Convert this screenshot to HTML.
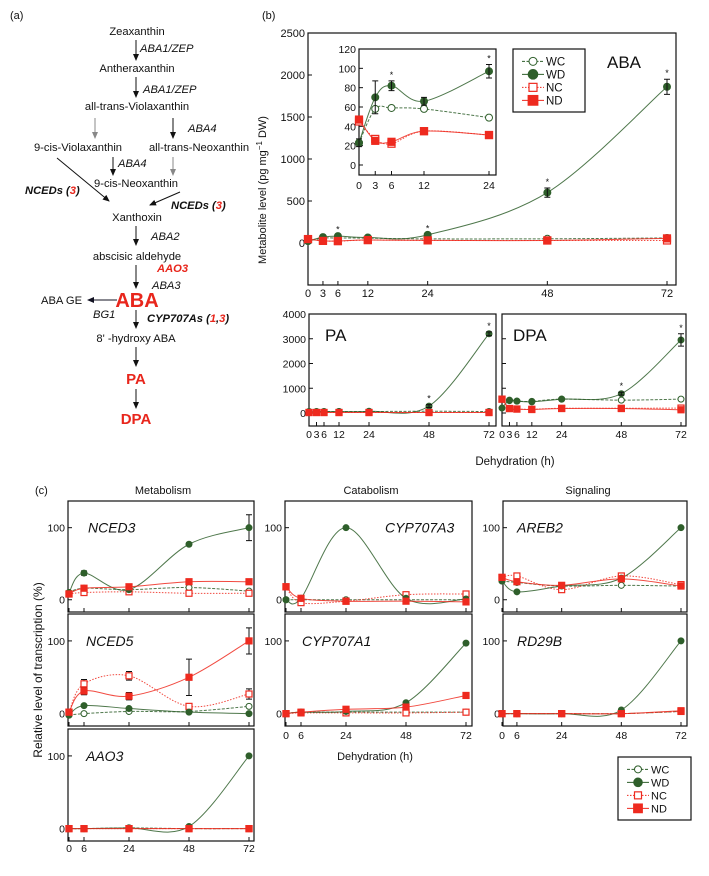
<!DOCTYPE html>
<html><head><meta charset="utf-8"><style>
body{margin:0;background:#fff;}
svg text{font-family:"Liberation Sans",Arial,sans-serif;fill:#111;}
</style></head><body>
<svg id="fig" xmlns="http://www.w3.org/2000/svg" width="709" height="871" viewBox="0 0 709 871">
<defs><marker id="ah" markerWidth="8" markerHeight="8" refX="6" refY="3" orient="auto"><path d="M0,0 L7,3 L0,6 Z" fill="#111"/></marker>
<marker id="ahg" markerWidth="8" markerHeight="8" refX="6" refY="3" orient="auto"><path d="M0,0 L7,3 L0,6 Z" fill="#888"/></marker>
<marker id="ahn" markerWidth="8" markerHeight="8" refX="6" refY="3" orient="auto"><path d="M0,0 L7,3 L0,6 Z" fill="#112"/></marker></defs>
<g id="pathway" font-size="11.2">
<text x="10" y="19" font-size="11">(a)</text>
<text x="137" y="35" text-anchor="middle">Zeaxanthin</text>
<line x1="136" y1="40" x2="136" y2="60" stroke="#111" marker-end="url(#ah)"/>
<text x="140" y="52" font-style="italic">ABA1/ZEP</text>
<text x="137" y="72" text-anchor="middle">Antheraxanthin</text>
<line x1="136" y1="77" x2="136" y2="97" stroke="#111" marker-end="url(#ah)"/>
<text x="143" y="93" font-style="italic">ABA1/ZEP</text>
<text x="137" y="110" text-anchor="middle">all-trans-Violaxanthin</text>
<line x1="95" y1="118" x2="95" y2="138" stroke="#888" marker-end="url(#ahg)"/>
<line x1="173" y1="118" x2="173" y2="138" stroke="#111" marker-end="url(#ah)"/>
<text x="188" y="132" font-style="italic">ABA4</text>
<text x="78" y="151" text-anchor="middle">9-cis-Violaxanthin</text>
<text x="199" y="151" text-anchor="middle">all-trans-Neoxanthin</text>
<line x1="113" y1="157" x2="113" y2="175" stroke="#111" marker-end="url(#ah)"/>
<text x="118" y="167" font-style="italic">ABA4</text>
<line x1="173" y1="157" x2="173" y2="175" stroke="#888" marker-end="url(#ahg)"/>
<text x="136" y="187" text-anchor="middle">9-cis-Neoxanthin</text>
<line x1="57" y1="158" x2="109" y2="201" stroke="#111" marker-end="url(#ah)"/>
<line x1="180" y1="192" x2="150" y2="205" stroke="#111" marker-end="url(#ah)"/>
<text x="25" y="194" font-weight="bold" font-style="italic">NCEDs (<tspan style="fill:#e8261c">3</tspan>)</text>
<text x="171" y="209" font-weight="bold" font-style="italic">NCEDs (<tspan style="fill:#e8261c">3</tspan>)</text>
<text x="137" y="221" text-anchor="middle">Xanthoxin</text>
<line x1="136" y1="226" x2="136" y2="245" stroke="#111" marker-end="url(#ah)"/>
<text x="151" y="240" font-style="italic">ABA2</text>
<text x="137" y="260" text-anchor="middle">abscisic aldehyde</text>
<text x="157" y="272" font-style="italic" font-weight="bold" style="fill:#e8261c">AAO3</text>
<line x1="136" y1="265" x2="136" y2="288" stroke="#111" marker-end="url(#ah)"/>
<text x="152" y="289" font-style="italic">ABA3</text>
<text x="137" y="307" text-anchor="middle" font-size="20" font-weight="bold" style="fill:#e8261c">ABA</text>
<line x1="117" y1="300" x2="88" y2="300" stroke="#112" marker-end="url(#ahn)"/>
<text x="41" y="304">ABA GE</text>
<text x="93" y="318" font-style="italic">BG1</text>
<line x1="136" y1="310" x2="136" y2="328" stroke="#111" marker-end="url(#ah)"/>
<text x="147" y="322" font-weight="bold" font-style="italic">CYP707As (<tspan style="fill:#e8261c">1</tspan>,<tspan style="fill:#e8261c">3</tspan>)</text>
<text x="136" y="342" text-anchor="middle">8'  -hydroxy ABA</text>
<line x1="136" y1="347" x2="136" y2="366" stroke="#111" marker-end="url(#ah)"/>
<text x="136" y="384" text-anchor="middle" font-size="15" font-weight="bold" style="fill:#e8261c">PA</text>
<line x1="136" y1="389" x2="136" y2="408" stroke="#111" marker-end="url(#ah)"/>
<text x="136" y="424" text-anchor="middle" font-size="15" font-weight="bold" style="fill:#e8261c">DPA</text>
</g>
<text x="262" y="19" font-size="11">(b)</text>
<text x="0" y="0" font-size="11" transform="translate(266,190) rotate(-90)" text-anchor="middle">Metabolite level (pg mg<tspan dy="-4" font-size="8">−1</tspan><tspan dy="4"> DW)</tspan></text>
<text x="515" y="465" font-size="11.5" text-anchor="middle">Dehydration (h)</text>
<text x="35" y="494" font-size="11">(c)</text>
<text x="163" y="494" font-size="11" text-anchor="middle">Metabolism</text>
<text x="371" y="494" font-size="11" text-anchor="middle">Catabolism</text>
<text x="588" y="494" font-size="11" text-anchor="middle">Signaling</text>
<text x="0" y="0" font-size="12" transform="translate(42,670) rotate(-90)" text-anchor="middle">Relative level of transcription (%)</text>
<text x="375" y="760" font-size="11" text-anchor="middle">Dehydration (h)</text>
<g id="plots"></g>
</svg>
<script>
// ---- data panel b ----
const bHours = [0,3,6,12,24,48,72];
const abaWC = [23,58,59,58,49,50,60];
const abaWD = [23,70,82,66,97,600,1860];
const abaNC = [45,27,22,35,31,30,30];
const abaND = [47,25,24,35,31,30,55];
const abaWDerr = [4,17,5,4,7,55,90];
const paWC = [60,60,60,60,60,70,60];
const paWD = [50,50,50,60,70,280,3200];
const paNC = [20,20,20,20,20,20,20];
const paND = [20,20,20,20,20,20,20];
const paWDerr = [0,0,0,0,0,60,80];
const dpaWC = [550,500,480,470,560,520,560];
const dpaWD = [200,520,480,450,560,780,2950];
const dpaNC = [560,180,160,150,190,190,200];
const dpaND = [560,180,160,140,180,180,130];
const dpaWDerr = [0,0,0,0,0,60,250];
const bMainTicks = [0,500,1000,1500,2000,2500];
const insetTicks = [0,20,40,60,80,100,120];
const paTicks = [0,1000,2000,3000,4000];
const bStars = [6,24,48,72];
const insetStars = [6,24];
// ---- data panel c ----
const cHours = [0,6,24,48,72];
const nced3WC = [10,16,14,17,12], nced3WD = [10,37,14,77,100], nced3NC = [8,10,11,9,9], nced3ND = [8,16,18,25,25];
const cyp3WC = [0,0,0,0,0], cyp3WD = [0,2,100,2,1], cyp3NC = [18,-4,-2,7,8], cyp3ND = [18,2,-2,-2,-3];
const areb2WC = [26,24,19,20,19], areb2WD = [26,11,19,30,100], areb2NC = [31,33,14,33,21], areb2ND = [31,25,20,29,19];
const nced5WC = [-2,0,3,3,10], nced5WD = [-2,11,7,2,0], nced5NC = [2,41,52,10,27], nced5ND = [2,31,24,50,100];
const cyp1WC = [0,2,2,2,2], cyp1WD = [0,2,3,15,97], cyp1NC = [0,1,1,1,2], cyp1ND = [0,2,6,9,25];
const rd29WC = [0,0,0,0,3], rd29WD = [0,0,0,5,100], rd29NC = [0,0,0,0,3], rd29ND = [0,0,0,0,4];
const aao3WC = [0,0,1,0,0], aao3WD = [0,0,1,3,100], aao3NC = [0,0,0,0,0], aao3ND = [0,0,0,0,0];
const nced3WDerr = [0,3,0,2,18], nced5NDerr = [0,5,5,25,18], nced5NCerr = [0,6,6,4,7];
const cTicks = [0,100];
const cXTicks = [0,6,24,48,72];

const NS = 'http://www.w3.org/2000/svg';
const G = '#2f5f2b', R = '#ee2a1f';
const root = document.getElementById('plots');
function mk(tag, attrs, parent){const e=document.createElementNS(NS,tag);for(const k in attrs)e.setAttribute(k,attrs[k]);(parent||root).appendChild(e);return e;}
function scale(d0,d1,r0,r1){return v=>r0+(v-d0)/(d1-d0)*(r1-r0);}
function smooth(pts){let d='M'+pts[0][0]+','+pts[0][1];for(let i=0;i<pts.length-1;i++){const p0=pts[i-1]||pts[i],p1=pts[i],p2=pts[i+1],p3=pts[i+2]||p2;const c1=[p1[0]+(p2[0]-p0[0])/6,p1[1]+(p2[1]-p0[1])/6],c2=[p2[0]-(p3[0]-p1[0])/6,p2[1]-(p3[1]-p1[1])/6];d+=' C'+c1+' '+c2+' '+p2;}return d;}
function marker(g,x,y,kind,r,name){let m;
  if(kind==='WC'||kind==='WD'){m=mk('circle',{cx:x,cy:y,r:r,fill:kind==='WD'?G:'#fff',stroke:G,'stroke-width':1},g);}
  else{m=mk('rect',{x:x-r,y:y-r,width:2*r,height:2*r,fill:kind==='ND'?R:'#fff',stroke:R,'stroke-width':1.2},g);}
  
  }
function lineAttrs(kind){const col=(kind==='WC'||kind==='WD')?G:R;return {fill:'none',stroke:col,'stroke-width':1,'stroke-dasharray':kind==='WC'?'3,1.5':(kind==='NC'?'1.5,1.5':'none'),opacity:0.85};}
function series(g,xs,ys,sx,sy,kind,r,name){
  const pts=xs.map((x,i)=>[sx(x),sy(ys[i])]);
  const a=lineAttrs(kind);a.d=smooth(pts);
  const p=mk('path',a,g);
  
  
  pts.forEach(pt=>marker(g,pt[0],pt[1],kind,r,name));
}
function errs(g,xs,ys,es,sx,sy){xs.forEach((x,i)=>{if(!es[i])return;const X=sx(x);mk('path',{d:`M${X},${sy(ys[i]-es[i])}V${sy(ys[i]+es[i])}M${X-3},${sy(ys[i]-es[i])}h6M${X-3},${sy(ys[i]+es[i])}h6`,stroke:'#111','stroke-width':1,fill:'none'},g);});}
function stars(g,xs,ys,es,hrs,sx,sy){hrs.forEach(h=>{const i=xs.indexOf(h);const t=mk('text',{x:sx(h),y:sy(ys[i]+(es[i]||0))-3,'text-anchor':'middle','font-size':9},g);t.textContent='*';});}
function frame(g,x0,y0,x1,y1,name){const r=mk('rect',{x:x0,y:y0,width:x1-x0,height:y1-y0,fill:'none',stroke:'#111','stroke-width':1.2},g);}
function yAxis(g,ticks,sy,x,labels,fs){ticks.forEach(t=>{mk('line',{x1:x,x2:x+4,y1:sy(t),y2:sy(t),stroke:'#111'},g);if(labels){const e=mk('text',{x:x-3,y:sy(t)+4,'text-anchor':'end','font-size':fs},g);e.textContent=t;}});}
function xAxis(g,ticks,sx,y,ly,fs){ticks.forEach(t=>{mk('line',{x1:sx(t),x2:sx(t),y1:y,y2:y-4,stroke:'#111'},g);const e=mk('text',{x:sx(t),y:ly,'text-anchor':'middle','font-size':fs},g);e.textContent=t;});}
function four(g,xs,d,sx,sy,r,name){series(g,xs,d[0],sx,sy,'WC',r,name+'-wc');series(g,xs,d[2],sx,sy,'NC',r,name+'-nc');series(g,xs,d[1],sx,sy,'WD',r,name+'-wd');series(g,xs,d[3],sx,sy,'ND',r,name+'-nd');}

// ABA main
let g=mk('g',{});
let sx=scale(0,72,308,667), sy=scale(-500,2500,285,33);
frame(g,308,33,676,285,'aba-plot-frame');
yAxis(g,bMainTicks,sy,308,true,11);xAxis(g,bHours,sx,285,297,11);
four(g,bHours,[abaWC,abaWD,abaNC,abaND],sx,sy,3.5,'aba');
errs(g,bHours.slice(5),abaWD.slice(5),abaWDerr.slice(5),sx,sy);stars(g,bHours,abaWD,abaWDerr,bStars,sx,sy);
let t=mk('text',{x:607,y:68,'font-size':17},g);t.textContent='ABA';
// inset
g=mk('g',{});
mk('rect',{x:359,y:49,width:137,height:126,fill:'#fff'},g);
const ih=bHours.slice(0,5);
sx=scale(0,24,359,489); sy=scale(0,120,165,49);
frame(g,359,49,496,175,'inset-frame');
yAxis(g,insetTicks,sy,359,true,10.5);xAxis(g,ih,sx,175,189,10.5);
four(g,ih,[abaWC.slice(0,5),abaWD.slice(0,5),abaNC.slice(0,5),abaND.slice(0,5)],sx,sy,3.5,'inset');
errs(g,ih,abaWD.slice(0,5),abaWDerr.slice(0,5),sx,sy);stars(g,ih,abaWD,abaWDerr,insetStars,sx,sy);
// legends
function legend(x0,y0,w,h,gap,fs,ms,name){const lg=mk('g',{});
 mk('rect',{x:x0,y:y0,width:w,height:h,fill:'#fff',stroke:'#111','stroke-width':1.2},lg);
 ['WC','WD','NC','ND'].forEach((k,i)=>{const y=y0+gap*0.95+i*gap;const a=lineAttrs(k);a.d=`M${x0+9},${y}H${x0+31}`;a.opacity=1;mk('path',a,lg);
  marker(lg,x0+20,y,k,k==='WD'||k==='ND'?ms+0.8:ms,name+'-'+k.toLowerCase());
  const e=mk('text',{x:x0+33,y:y+4,'font-size':fs},lg);e.textContent=k;});}
legend(513,49,72,63,13,11.5,4,'b-legend');
// PA
g=mk('g',{});
sx=scale(0,72,309,489); sy=scale(0,4000,413,314);
frame(g,309,314,496,426,'pa-frame');yAxis(g,paTicks,sy,309,true,10.5);xAxis(g,bHours,sx,426,438,10.5);
four(g,bHours,[paWC,paWD,paNC,paND],sx,sy,3,'pa');errs(g,bHours,paWD,paWDerr,sx,sy);stars(g,bHours,paWD,paWDerr,[48,72],sx,sy);
t=mk('text',{x:325,y:341,'font-size':17},g);t.textContent='PA';
// DPA
g=mk('g',{});
sx=scale(0,72,502,681);
frame(g,502,314,686,426,'dpa-frame');yAxis(g,paTicks,sy,502,false,10.5);xAxis(g,bHours,sx,426,438,10.5);
four(g,bHours,[dpaWC,dpaWD,dpaNC,dpaND],sx,sy,3,'dpa');errs(g,bHours,dpaWD,dpaWDerr,sx,sy);stars(g,bHours,dpaWD,dpaWDerr,[48,72],sx,sy);
t=mk('text',{x:513,y:341,'font-size':17},g);t.textContent='DPA';
// panel c
const cols=[[68,254,69,249],[285,472,286,466],[503,687,502,681]];
const rows=[[501,612],[614,726],[729,841]];
const cPanels=[
 ['NCED3',0,0,[nced3WC,nced3WD,nced3NC,nced3ND],88,[[nced3WD,nced3WDerr]]],
 ['CYP707A3',1,0,[cyp3WC,cyp3WD,cyp3NC,cyp3ND],385,[]],
 ['AREB2',2,0,[areb2WC,areb2WD,areb2NC,areb2ND],517,[]],
 ['NCED5',0,1,[nced5WC,nced5WD,nced5NC,nced5ND],86,[[nced5ND,nced5NDerr],[nced5NC,nced5NCerr]]],
 ['CYP707A1',1,1,[cyp1WC,cyp1WD,cyp1NC,cyp1ND],302,[]],
 ['RD29B',2,1,[rd29WC,rd29WD,rd29NC,rd29ND],517,[]],
 ['AAO3',0,2,[aao3WC,aao3WD,aao3NC,aao3ND],86,[]]];
cPanels.forEach(p=>{const [name,ci,ri,d,lx,eb]=p;const c=cols[ci],r=rows[ri];
 const cg=mk('g',{});
 const sxc=scale(0,72,c[2],c[3]), syc=scale(-17,137,r[1],r[0]);
 frame(cg,c[0],r[0],c[1],r[1],name.toLowerCase()+'-frame');
 yAxis(cg,cTicks,syc,c[0],true,10.5);
 cXTicks.forEach(x=>mk('line',{x1:sxc(x),x2:sxc(x),y1:r[1],y2:r[1]-4,stroke:'#111'},cg));
 if(ri===2||(ri===1&&ci>0)){cXTicks.forEach(x=>{const e=mk('text',{x:sxc(x),y:r[1]+(ri===2?11:13),'text-anchor':'middle','font-size':10.5},cg);e.textContent=x;});}
 eb.forEach(e=>errs(cg,cHours,e[0],e[1],sxc,syc));
 four(cg,cHours,d,sxc,syc,3,name.toLowerCase());
 const tt=mk('text',{x:lx,y:syc(100)+5,'font-size':14,'font-style':'italic'},cg);tt.textContent=name;
 
});
legend(618,757,73,63,13,11,3.5,'c-legend');
</script>
</body></html>
